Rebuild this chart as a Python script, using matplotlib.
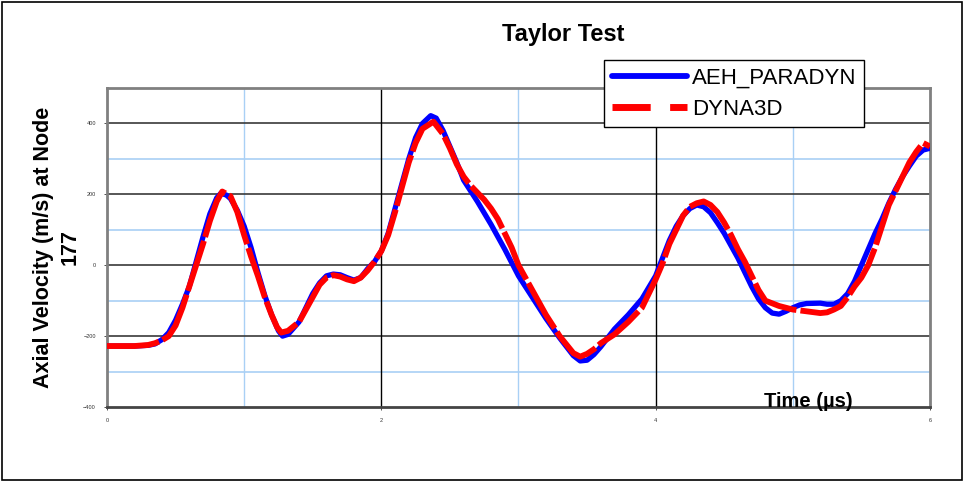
import numpy as np
import matplotlib.pyplot as plt
from matplotlib.lines import Line2D
from matplotlib.patches import Rectangle

plt.rcParams['font.family'] = ['Liberation Sans', 'DejaVu Sans']

# AEH_PARADYN (blue)
t_aeh = [0.0, 0.1, 0.2, 0.3, 0.35, 0.4, 0.45, 0.5, 0.55, 0.6, 0.65, 0.7, 0.75, 0.8, 0.83,
         0.87, 0.9, 0.95, 1.0, 1.05, 1.1, 1.15, 1.2, 1.25, 1.28, 1.32, 1.4, 1.45, 1.5, 1.55,
         1.6, 1.65, 1.7, 1.75, 1.8, 1.85, 1.9, 1.95, 2.0, 2.05, 2.1, 2.15, 2.2, 2.25, 2.3,
         2.36, 2.4, 2.45, 2.5, 2.55, 2.6, 2.7, 2.8, 2.9, 3.0, 3.1, 3.2, 3.3, 3.4, 3.45,
         3.5, 3.55, 3.6, 3.7, 3.8, 3.9, 4.0, 4.05, 4.1, 4.15, 4.2, 4.25, 4.3, 4.35, 4.4,
         4.45, 4.5, 4.55, 4.6, 4.65, 4.7, 4.75, 4.8, 4.85, 4.9, 4.95, 5.0, 5.05, 5.1, 5.2,
         5.25, 5.3, 5.35, 5.4, 5.45, 5.5, 5.55, 5.6, 5.65, 5.7, 5.75, 5.8, 5.85, 5.9, 5.95, 6.0]
v_aeh = [-228, -228, -228, -226, -222, -210, -190, -155, -110, -60, 10, 80, 145, 190, 203,
         198, 188, 155, 110, 50, -20, -85, -140, -185, -200, -195, -160, -120, -80, -50,
         -30, -25, -27, -35, -42, -35, -10, 10, 40, 90, 160, 230, 300, 360, 400,
         422, 415, 380, 335, 290, 240, 180, 115, 45, -30, -90, -150, -205, -255, -270,
         -268, -252, -230, -180, -140, -95, -30, 20, 70, 110, 140, 160, 170, 165, 148,
         120, 90, 55, 20, -20, -60, -95, -120, -135, -138, -130, -120, -112, -108, -107,
         -110, -110, -100, -80, -45, 0, 45, 90, 130, 175, 215, 250, 280, 308, 325, 330]

# DYNA3D (red)
t_dyna = [0.0, 0.1, 0.2, 0.3, 0.35, 0.4, 0.45, 0.5, 0.55, 0.6, 0.65, 0.7, 0.75, 0.8, 0.84,
          0.9, 0.95, 1.0, 1.05, 1.1, 1.15, 1.2, 1.24, 1.27, 1.32, 1.4, 1.45, 1.5, 1.55,
          1.6, 1.65, 1.7, 1.75, 1.8, 1.85, 1.9, 1.95, 2.0, 2.05, 2.1, 2.15, 2.2, 2.25, 2.3,
          2.38, 2.45, 2.5, 2.55, 2.6, 2.65, 2.7, 2.75, 2.8, 2.85, 2.9, 2.95, 3.0, 3.1, 3.2,
          3.3, 3.4, 3.45, 3.5, 3.55, 3.6, 3.7, 3.8, 3.9, 4.0, 4.05, 4.1, 4.15, 4.2, 4.25,
          4.3, 4.35, 4.4, 4.45, 4.5, 4.55, 4.6, 4.65, 4.7, 4.75, 4.8, 4.9, 5.0, 5.1, 5.2,
          5.25, 5.3, 5.35, 5.4, 5.45, 5.5, 5.55, 5.6, 5.65, 5.7, 5.75, 5.8, 5.85, 5.9, 5.95, 6.0]
v_dyna = [-228, -228, -228, -225, -220, -212, -200, -170, -120, -60, 0, 60, 125, 180, 208,
          195, 150, 85, 25, -30, -90, -140, -175, -190, -185, -160, -125, -90, -55,
          -35, -28, -32, -40, -45, -35, -15, 10, 40, 85, 150, 220, 290, 345, 385,
          405, 370, 330, 285, 250, 225, 205, 185, 160, 130, 90, 50, 0, -70, -140,
          -200, -248, -258, -250, -237, -220, -195, -160, -120, -40, 5, 60, 100, 140, 165,
          175, 180, 170, 150, 120, 85, 45, 10, -30, -70, -100, -115, -125, -130, -135,
          -133, -125, -115, -90, -60, -35, 0, 50, 110, 170, 210, 250, 290, 320, 345, 335]

x_ticks = [0, 2, 4, 6]
y_ticks = [-400, -200, 0, 200, 400]

fig = plt.figure(figsize=(9.64, 4.82), dpi=100)
ax = fig.add_axes([0.111, 0.1556, 0.8537, 0.6618])

ax.set_xlim(0, 6)
ax.set_ylim(-400, 500)

# grid
for yv in [-300, -100, 100, 300]:
    ax.axhline(yv, color='#a9d0f5', lw=1.2, zorder=1)
for xv in [1, 3, 5]:
    ax.axvline(xv, color='#a9d0f5', lw=1.0, zorder=1)
for yv in [-200, 0, 200, 400]:
    ax.axhline(yv, color='#3a3a3a', lw=1.2, zorder=1)
for xv in [2, 4]:
    ax.axvline(xv, color='black', lw=1.0, zorder=1)

ax.plot(t_aeh, v_aeh, color='#0000ff', lw=3.8, solid_capstyle='round', zorder=3)
red, = ax.plot(t_dyna, v_dyna, color='#ff0000', lw=4.2, zorder=4)
red.set_dashes((9, 0.7))

ax.set_xticks(x_ticks)
ax.set_yticks(y_ticks)
ax.tick_params(labelsize=4, length=2, width=0.6, colors='#333333', pad=6)
for s in ax.spines.values():
    s.set_color('#808080')
    s.set_linewidth(2)
ax.spines['bottom'].set_color('#444444')

h1 = Line2D([], [], color='#0000ff', lw=4.2, solid_capstyle='round')
h2 = Line2D([], [], color='#ff0000', lw=5, dashes=(5.5, 2.8))
leg = ax.legend([h1, h2], ['AEH_PARADYN', 'DYNA3D'], loc='upper left',
                bbox_to_anchor=(0.604, 1.088), borderaxespad=0, fontsize=16,
                frameon=True, fancybox=False, framealpha=1, edgecolor='black',
                handlelength=3.4, handletextpad=0.2, labelspacing=0.45,
                borderpad=0.35)
leg.get_frame().set_linewidth(1.0)
leg.set_zorder(10)

fig.text(0.584, 0.928, 'Taylor Test', ha='center', va='center',
         fontsize=17, fontweight='bold')
fig.text(0.0586, 0.487, 'Axial Velocity (m/s) at Node\n177', ha='center', va='center',
         rotation=90, fontsize=15.5, fontweight='bold', linespacing=1.35)
fig.text(0.838, 0.167, 'Time (\u00b5s)', ha='center', va='center',
         fontsize=14.5, fontweight='bold', zorder=20)

fig.patches.append(Rectangle((0.002, 0.004), 0.996, 0.992, transform=fig.transFigure,
                             fill=False, edgecolor='black', lw=1.2))

fig.savefig('out.png', dpi=100)
